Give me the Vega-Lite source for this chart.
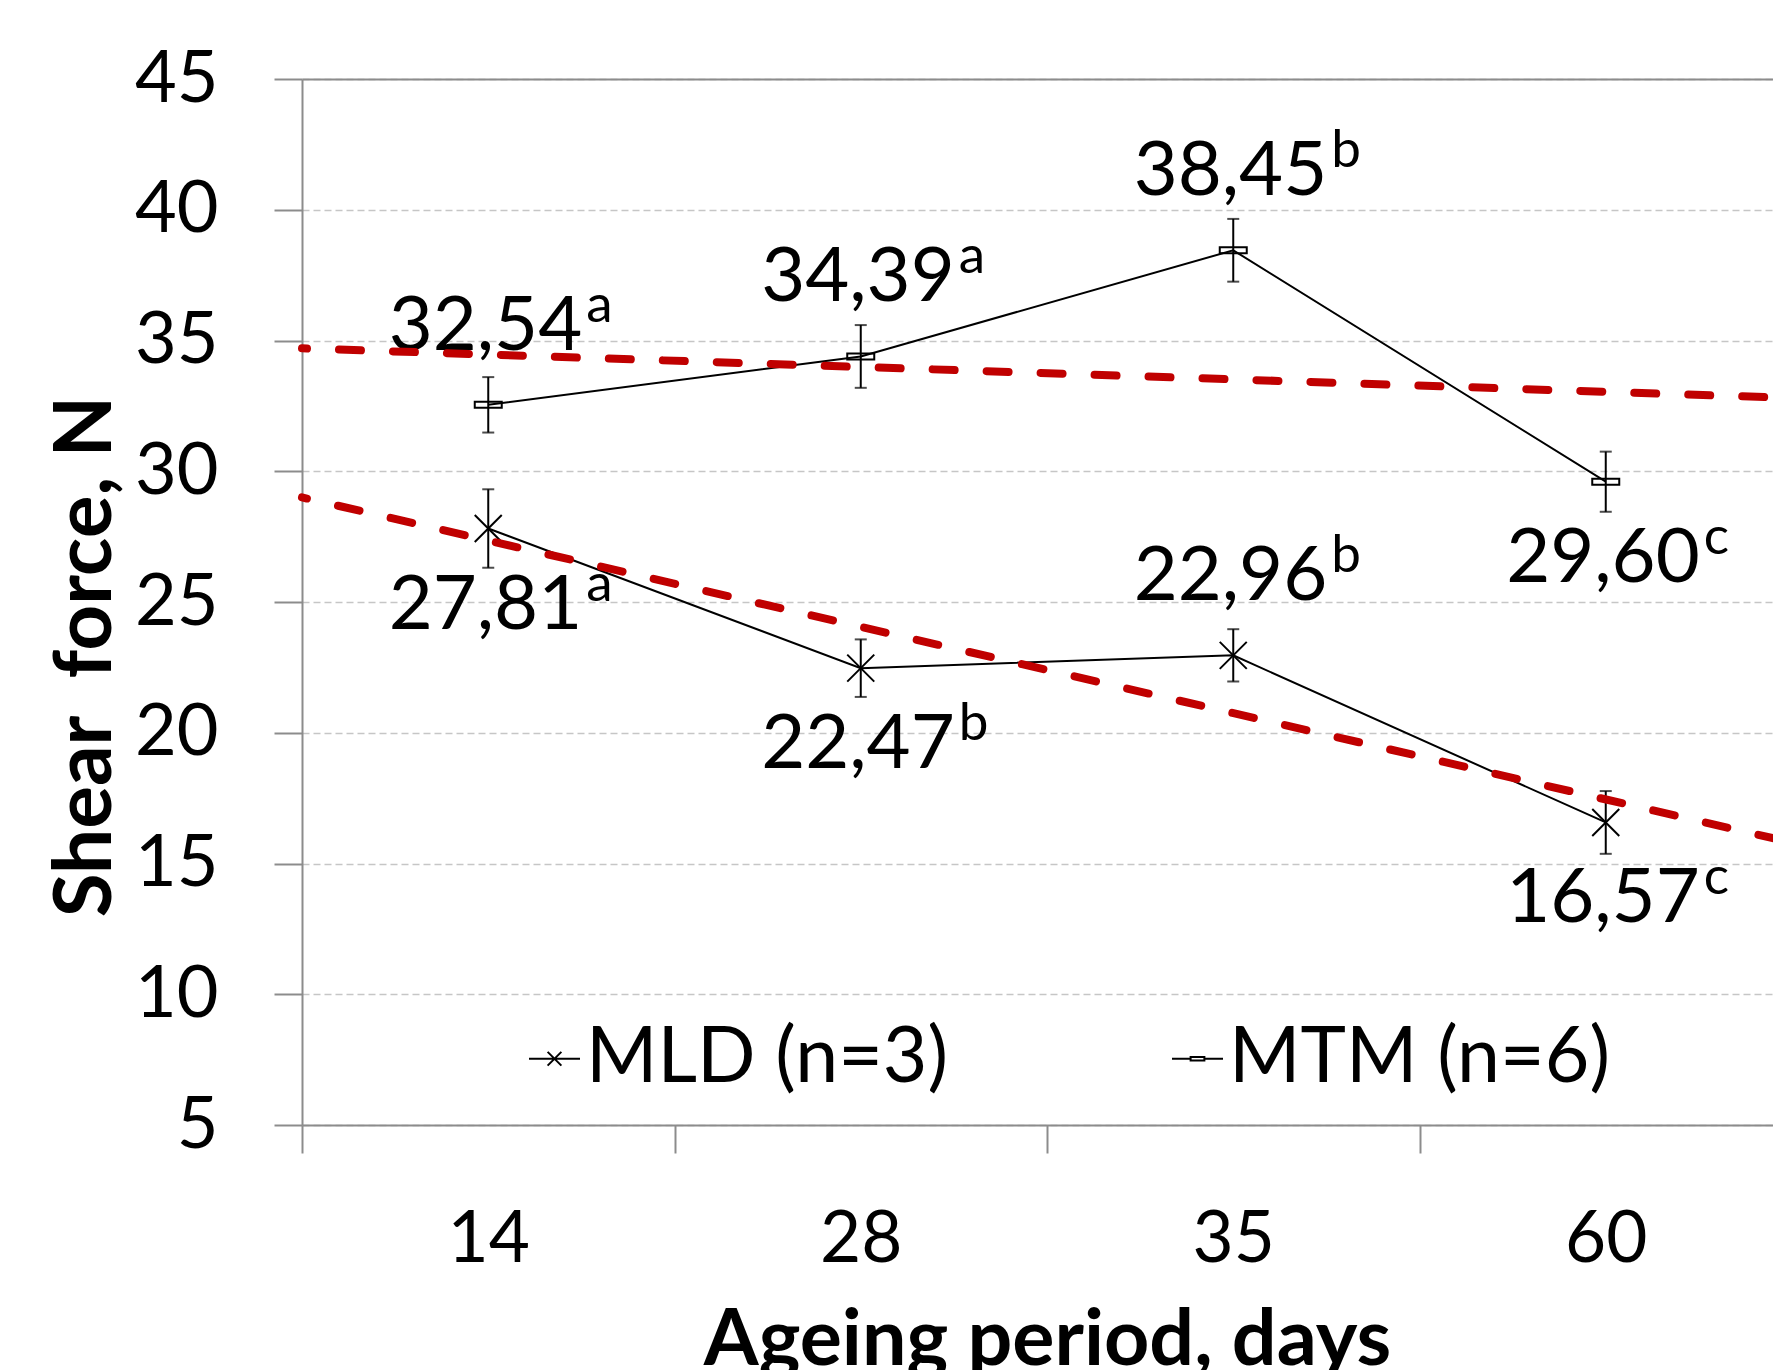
{
  "$schema": "https://vega.github.io/schema/vega-lite/v6.json",
  "width": 1471,
  "height": 1046,
  "autosize": "none",
  "padding": {"left": 302, "top": 79, "right": 0, "bottom": 245},
  "background": "white",
  "config": {
    "view": {"stroke": null},
    "font": "Lato",
    "locale": {"number": {"decimal": ",", "thousands": " ", "grouping": [3], "currency": ["", ""]}}
  },
  "datasets": {
    "points": [
      {"day": "14", "series": "MLD (n=3)", "mean": 27.81, "err": 1.5, "sig": "a"},
      {"day": "28", "series": "MLD (n=3)", "mean": 22.47, "err": 1.1, "sig": "b"},
      {"day": "35", "series": "MLD (n=3)", "mean": 22.96, "err": 1.0, "sig": "b"},
      {"day": "60", "series": "MLD (n=3)", "mean": 16.57, "err": 1.2, "sig": "c"},
      {"day": "14", "series": "MTM (n=6)", "mean": 32.54, "err": 1.06, "sig": "a"},
      {"day": "28", "series": "MTM (n=6)", "mean": 34.39, "err": 1.2, "sig": "a"},
      {"day": "35", "series": "MTM (n=6)", "mean": 38.45, "err": 1.2, "sig": "b"},
      {"day": "60", "series": "MTM (n=6)", "mean": 29.60, "err": 1.15, "sig": "c"}
    ],
    "trend": [
      {"series": "MLD (n=3)", "t": 0.5, "value": 29.0},
      {"series": "MLD (n=3)", "t": 4.5, "value": 15.8},
      {"series": "MTM (n=6)", "t": 0.5, "value": 34.7},
      {"series": "MTM (n=6)", "t": 4.5, "value": 32.8}
    ]
  },
  "layer": [
    {
      "data": {"name": "points"},
      "encoding": {
        "x": {
          "field": "day", "type": "ordinal",
          "scale": {"type": "band", "domain": ["14", "28", "35", "60"], "range": [0, 1490], "paddingInner": 0, "paddingOuter": 0},
          "axis": {
            "title": "Ageing period, days", "tickBand": "extent", "grid": false,
            "domainColor": "#8c8c8c", "domainWidth": 2, "tickColor": "#8c8c8c", "tickWidth": 2, "tickSize": 28,
            "labelFont": "Lato", "labelFontSize": 71, "labelColor": "black", "labelPadding": 52, "labelAngle": 0,
            "titleFont": "Lato", "titleFontSize": 79, "titleFontWeight": "bold", "titleColor": "black",
            "titleX": 745, "titleY": 239, "titleAlign": "center", "titleBaseline": "alphabetic"
          }
        },
        "y": {
          "field": "mean", "type": "quantitative",
          "scale": {"domain": [5, 45], "nice": false, "zero": false},
          "axis": {
            "title": "Shear\u00a0 force, N", "values": [5, 10, 15, 20, 25, 30, 35, 40, 45],
            "grid": true, "gridColor": "#c6c6c6", "gridDash": [7, 4], "gridWidth": 1.5,
            "domainColor": "#8c8c8c", "domainWidth": 2, "tickColor": "#8c8c8c", "tickWidth": 2, "tickSize": 28,
            "labelFont": "Lato", "labelFontSize": 72, "labelColor": "black", "labelPadding": 56,
            "titleFont": "Lato", "titleFontSize": 80, "titleFontWeight": "bold", "titleColor": "black",
            "titleAngle": 270, "titleX": -192, "titleY": 577, "titleAlign": "center", "titleBaseline": "alphabetic"
          }
        }
      },
      "layer": [
        {
          "mark": {"type": "line", "color": "black", "strokeWidth": 2},
          "encoding": {"detail": {"field": "series"}}
        },
        {
          "mark": {"type": "errorbar", "color": "black", "ticks": {"size": 12, "thickness": 2, "color": "black"}, "rule": {"strokeWidth": 2, "color": "black"}},
          "encoding": {"yError": {"field": "err"}, "detail": {"field": "series"}}
        },
        {
          "mark": {"type": "point", "filled": false, "stroke": "black", "strokeWidth": 2, "size": 729, "opacity": 1},
          "encoding": {
            "shape": {
              "field": "series", "type": "nominal",
              "scale": {"domain": ["MLD (n=3)", "MTM (n=6)"], "range": ["M-1,-1L1,1M-1,1L1,-1", "M-1,-0.22H1V0.22H-1Z"]},
              "legend": null
            }
          }
        },
        {
          "mark": {"type": "point", "filled": false, "stroke": "black", "strokeWidth": 2, "size": 0},
          "encoding": {
            "shape": {
              "field": "series", "type": "nominal",
              "scale": {"domain": ["MLD (n=3)", "MTM (n=6)"], "range": ["M-1,0H1M-0.27,-0.27L0.27,0.27M-0.27,0.27L0.27,-0.27", "M-1,0H-0.27M0.27,0H1M-0.27,-0.07H0.27V0.07H-0.27Z"]},
              "legend": {
                "title": null, "orient": "none", "direction": "horizontal", "legendX": 214, "legendY": 941,
                "padding": 0, "labelFont": "Lato", "labelFontSize": 77, "labelColor": "black", "labelOffset": -7,
                "symbolSize": 2601, "symbolStrokeWidth": 2, "symbolStrokeColor": "black", "symbolFillColor": "#bfbfbf", "symbolOpacity": 1,
                "columnPadding": 210, "labelLimit": 600
              }
            }
          }
        },
        {
          "transform": [{"filter": "(datum.series == 'MTM (n=6)' && datum.day != '60') || (datum.series == 'MLD (n=3)' && datum.day == '35')"}],
          "mark": {"type": "text", "font": "Lato", "fontSize": 76, "color": "black", "align": "right", "baseline": "alphabetic", "dx": 94, "dy": -55},
          "encoding": {"text": {"field": "mean", "type": "quantitative", "format": ".2f"}}
        },
        {
          "transform": [{"filter": "(datum.series == 'MTM (n=6)' && datum.day != '60') || (datum.series == 'MLD (n=3)' && datum.day == '35')"}],
          "mark": {"type": "text", "font": "Lato", "fontSize": 53, "color": "black", "align": "left", "baseline": "alphabetic", "dx": 98, "dy": -83},
          "encoding": {"text": {"field": "sig"}}
        },
        {
          "transform": [{"filter": "!((datum.series == 'MTM (n=6)' && datum.day != '60') || (datum.series == 'MLD (n=3)' && datum.day == '35'))"}],
          "mark": {"type": "text", "font": "Lato", "fontSize": 76, "color": "black", "align": "right", "baseline": "alphabetic", "dx": 94, "dy": 100},
          "encoding": {"text": {"field": "mean", "type": "quantitative", "format": ".2f"}}
        },
        {
          "transform": [{"filter": "!((datum.series == 'MTM (n=6)' && datum.day != '60') || (datum.series == 'MLD (n=3)' && datum.day == '35'))"}],
          "mark": {"type": "text", "font": "Lato", "fontSize": 53, "color": "black", "align": "left", "baseline": "alphabetic", "dx": 98, "dy": 72},
          "encoding": {"text": {"field": "sig"}}
        }
      ],
      "resolve": {"scale": {"shape": "independent"}}
    },
    {
      "data": {"name": "trend"},
      "mark": {"type": "line", "color": "#C00000", "strokeWidth": 8, "strokeDash": [22, 32], "strokeDashOffset": 17, "strokeCap": "round"},
      "encoding": {
        "x": {
          "field": "t", "type": "quantitative",
          "scale": {"domain": [0.5, 4.5], "range": [0, 1490], "nice": false, "zero": false},
          "axis": {"orient": "top", "labels": false, "ticks": false, "grid": false, "title": null, "domainColor": "#8c8c8c", "domainWidth": 2}
        },
        "y": {"field": "value", "type": "quantitative", "scale": {"domain": [5, 45], "nice": false, "zero": false}, "axis": null},
        "detail": {"field": "series"}
      }
    }
  ],
  "resolve": {"scale": {"x": "independent"}, "axis": {"x": "independent", "y": "independent"}}
}
